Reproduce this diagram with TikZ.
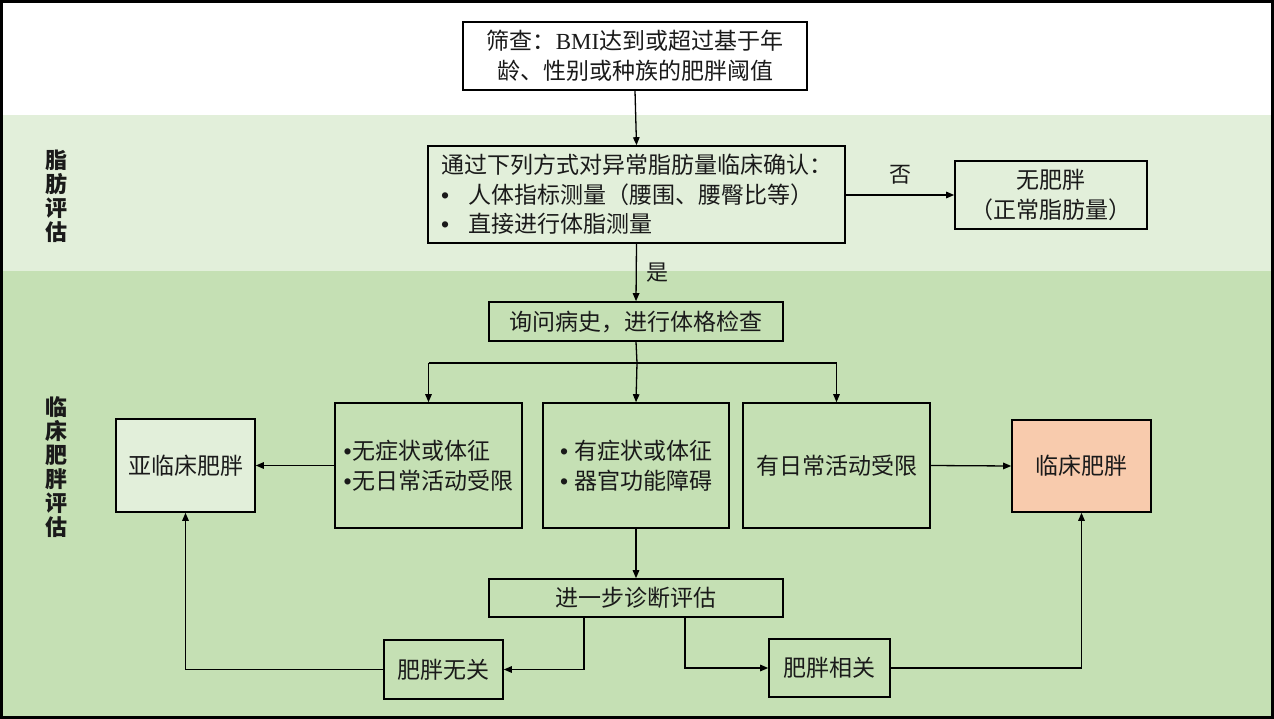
\documentclass[tikz,border=0pt]{standalone}
\usepackage{fontspec}
\setmainfont{Noto Sans CJK SC}
\newfontfamily\latinserif{Liberation Serif}
\newfontfamily\bulfont{Liberation Sans}
\newcommand{\bulx}[1]{\makebox[#1][l]{\bulfont •}}
\usetikzlibrary{arrows.meta}
\definecolor{lightg}{HTML}{E2EFDA}
\definecolor{midg}{HTML}{C5E0B4}
\definecolor{peach}{HTML}{F8CBAD}
\definecolor{ink}{HTML}{1A1A1A}
\begin{document}
\begin{tikzpicture}[x=1pt,y=-1pt,
  box/.style={draw=black,line width=1.6pt,inner sep=0pt,align=center,
    font=\fontsize{23}{29.5}\selectfont,text=ink},
  conn/.style={line width=1.3pt,-{Triangle[length=8pt,width=6.5pt]}},
  plain/.style={line width=1.3pt},
  lab/.style={font=\fontsize{22}{24}\selectfont\bfseries,align=center,inner sep=0pt,text=ink},
  tag/.style={font=\fontsize{22}{26}\selectfont,inner sep=0pt,text=ink}]
\useasboundingbox (0,0) rectangle (1274,719);
\fill[white] (0,0) rectangle (1274,115);
\fill[lightg] (0,115) rectangle (1274,271);
\fill[midg] (0,271) rectangle (1274,719);
\draw[line width=3pt] (1.5,1.5) rectangle (1272.5,717.5);

% side labels
\node[lab] (labA) at (56,196) {脂\\肪\\评\\估};
\node[lab] (labB) at (56,467) {临\\床\\肥\\胖\\评\\估};

% boxes
\node[box,fill=white,minimum width=344pt,minimum height=68pt] (screen) at (635,56)
  {筛查：{\latinserif BMI}达到或超过基于年\\龄、性别或种族的肥胖阈值};
\node[box,fill=lightg,minimum width=417pt,minimum height=97pt,align=left] (confirm) at (636.5,194.5)
  {通过下列方式对异常脂肪量临床确认：\\
   \bulx{27pt}人体指标测量（腰围、腰臀比等）\\
   \bulx{27pt}直接进行体脂测量};
\node[box,fill=lightg,minimum width=192pt,minimum height=68pt] (noob) at (1051,195)
  {无肥胖\\（正常脂肪量）};
\node[box,fill=midg,minimum width=294pt,minimum height=39pt] (hist) at (636,321.5)
  {询问病史，进行体格检查};
\node[box,fill=midg,minimum width=187pt,minimum height=125pt,align=left] (b5) at (428.5,465.5)
  {\bulx{9pt}无症状或体征\\\bulx{9pt}无日常活动受限};
\node[box,fill=midg,minimum width=186pt,minimum height=125pt,align=left] (b6) at (636,465.5)
  {\bulx{14pt}有症状或体征\\\bulx{14pt}器官功能障碍};
\node[box,fill=midg,minimum width=187pt,minimum height=125pt] (b7) at (836.5,465.5)
  {有日常活动受限};
\node[box,fill=lightg,minimum width=139pt,minimum height=93pt] (sub) at (185.5,465.5)
  {亚临床肥胖};
\node[box,fill=peach,minimum width=139pt,minimum height=92pt] (clin) at (1081.5,466)
  {临床肥胖};
\node[box,fill=midg,minimum width=294pt,minimum height=38pt] (further) at (636,598)
  {进一步诊断评估};
\node[box,fill=midg,minimum width=119pt,minimum height=59pt] (unrel) at (443.5,669.5)
  {肥胖无关};
\node[box,fill=midg,minimum width=121pt,minimum height=58pt] (rel) at (829.5,668)
  {肥胖相关};

% connectors
\draw[conn] (screen.south) -- (confirm.north);
\draw[conn] (confirm.east |- noob.west) -- node[tag,above=10pt] (no) {否} (noob.west);
\draw[conn] (confirm.south) -- node[tag,right=10pt] (yes) {是} (hist.north);
\coordinate (split) at (637,363);
\draw[plain] (hist.south) -- (split);
\draw[plain] (b5.north |- split) -- (b7.north |- split);
\draw[conn] (b5.north |- split) -- (b5.north);
\draw[conn] (split) -- (b6.north);
\draw[conn] (b7.north |- split) -- (b7.north);
\draw[conn] (b5.west) -- (sub.east);
\draw[conn] (b7.east) -- (clin.west);
\draw[conn] (b6.south) -- (further.north);
\coordinate (fl) at (584,617);
\coordinate (fr) at (685,617);
\draw[conn] (fl) |- (unrel.east);
\draw[conn] (fr) |- (rel.west);
\draw[conn] (unrel.west) -| (sub.south);
\draw[conn] (rel.east) -| (clin.south);
\end{tikzpicture}
\end{document}
